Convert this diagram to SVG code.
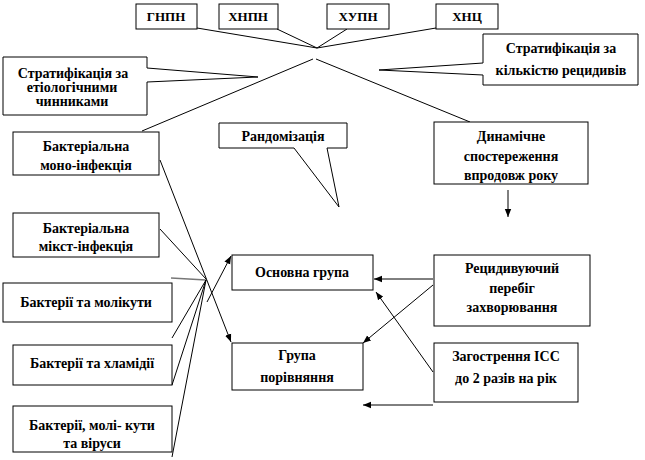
<svg xmlns="http://www.w3.org/2000/svg" width="645" height="460" viewBox="0 0 645 460">
<defs>
<style>
.b{fill:#fff;stroke:#000;stroke-width:1}
.t{font-family:"Liberation Serif","Times New Roman",serif;font-weight:bold;font-size:14px;text-anchor:middle;fill:#000}
.s{font-size:13px}
.l{fill:none;stroke:#000;stroke-width:1}
</style>
<marker id="ah" viewBox="0 0 10 10" refX="10" refY="5" markerWidth="8" markerHeight="8" markerUnits="userSpaceOnUse" orient="auto">
<path d="M0,1 L10,5 L0,9 Z" fill="#000"/>
</marker>
</defs>
<rect width="645" height="460" fill="#fff"/>
<g id="connectors">
<path class="l" d="M197,28 L317,48 M277,29 L317,48 M347,29 L317,48 M436,28 L317,48"/>
<path class="l" d="M313,59 L142,131 M316,59 L470,122"/>
<path class="l" d="M160,229 L206,279"/>
<path d="M171,278 L206,280" fill="none" stroke="#777" stroke-width="1.5"/>
<path class="l" d="M172,338 L206,280 M172,385 L206,280 M172,457 L206,280"/>
<path class="l" d="M160,160 L231,342" marker-end="url(#ah)"/>
<path class="l" d="M207,302 L231,256" marker-end="url(#ah)"/>
<path class="l" d="M508,190 L508,217" marker-end="url(#ah)"/>
<path class="l" d="M433,279 L374,279" marker-end="url(#ah)"/>
<path class="l" d="M433,285 L363,343" marker-end="url(#ah)"/>
<path class="l" d="M433,372 L376,292" marker-end="url(#ah)"/>
<path class="l" d="M433,405 L363,405" marker-end="url(#ah)"/>
</g>
<g id="n-gnpn"><rect class="b" x="136" y="4" width="61" height="25"/><text class="t s" x="166" y="21">ГНПН</text></g>
<g id="n-hnpn"><rect class="b" x="219" y="4" width="59" height="25"/><text class="t s" x="248" y="21">ХНПН</text></g>
<g id="n-hupn"><rect class="b" x="327" y="4" width="62" height="25"/><text class="t s" x="358" y="21">ХУПН</text></g>
<g id="n-hnc"><rect class="b" x="436" y="4" width="62" height="25"/><text class="t s" x="467" y="21">ХНЦ</text></g>
<g id="n-strat-etio"><path class="b" d="M3,57 H147 V68 L258,77 L147,82 V115 H3 Z"/>
<text class="t" x="73" y="78">Стратифікація  за</text>
<text class="t" x="72" y="92">етіологічними</text>
<text class="t" x="72" y="106">чинниками</text></g>
<g id="n-strat-rec"><path class="b" d="M483,34 H638 V85 H483 V75 L379,70 L483,63 Z"/>
<text class="t" x="561" y="53">Стратифікація  за</text>
<text class="t" x="561" y="75">кількістю  рецидивів</text></g>
<g id="n-random"><path class="b" d="M219,123 H347 V148 H327 L339,207 L294,148 H219 Z"/>
<text class="t" x="283" y="141">Рандомізація</text></g>
<g id="n-dyn"><rect class="b" x="434" y="122" width="154" height="62"/>
<text class="t" x="511" y="141">Динамічне</text>
<text class="t" x="511" y="161">спостереження</text>
<text class="t" x="511" y="180">впродовж року</text></g>
<g id="n-mono"><rect class="b" x="13" y="132" width="146" height="43"/>
<text class="t" x="86" y="151">Бактеріальна</text>
<text class="t" x="86" y="170">моно-інфекція</text></g>
<g id="n-mixt"><rect class="b" x="13" y="213" width="146" height="44"/>
<text class="t" x="86" y="233">Бактеріальна</text>
<text class="t" x="86" y="251">мікст-інфекція</text></g>
<g id="n-mol"><rect class="b" x="3" y="283" width="169" height="39"/>
<text class="t" x="86" y="307">Бактерії  та молікути</text></g>
<g id="n-chl"><rect class="b" x="13" y="345" width="159" height="40"/>
<text class="t" x="92" y="368">Бактерії  та хламідії</text></g>
<g id="n-vir"><rect class="b" x="13" y="406" width="159" height="46"/>
<text class="t" x="92" y="430">Бактерії,  молі- кути</text>
<text class="t" x="92" y="448">та віруси</text></g>
<g id="n-main"><rect class="b" x="232" y="255" width="141" height="35"/>
<text class="t" x="302" y="277">Основна група</text></g>
<g id="n-comp"><rect class="b" x="232" y="343" width="131" height="47"/>
<text class="t" x="297" y="360">Група</text>
<text class="t" x="297" y="382">порівняння</text></g>
<g id="n-recur"><rect class="b" x="434" y="255" width="156" height="71"/>
<text class="t" x="512" y="273">Рецидивуючий</text>
<text class="t" x="512" y="293">перебіг</text>
<text class="t" x="512" y="312">захворювання</text></g>
<g id="n-exac"><rect class="b" x="434" y="343" width="144" height="59"/>
<text class="t" x="506" y="361">Загострення ІСС</text>
<text class="t" x="506" y="383">до 2 разів  на рік</text></g>
</svg>
